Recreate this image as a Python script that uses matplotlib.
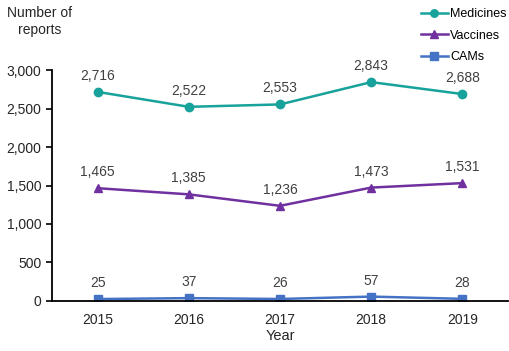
import matplotlib.pyplot as plt

plt.rcParams['font.family'] = ['Liberation Sans', 'DejaVu Sans']

years = ['2015', '2016', '2017', '2018', '2019']
medicines = [2716, 2522, 2553, 2843, 2688]
vaccines = [1465, 1385, 1236, 1473, 1531]
cams = [25, 37, 26, 57, 28]

txt = '#404040'

fig = plt.figure(figsize=(5.1, 3.51), dpi=100)
ax = fig.add_axes([0.102, 0.1425, 0.894, 0.658])

x = range(len(years))
series = [
    ('Medicines', medicines, '#17a29b', 'o'),
    ('Vaccines', vaccines, '#7030a0', '^'),
    ('CAMs', cams, '#4472c4', 's'),
]
for name, vals, col, mk in series:
    ax.plot(x, vals, color=col, marker=mk, markersize=6, linewidth=1.8, label=name)
    for xi, v in zip(x, vals):
        ax.annotate(f'{v:,}', (xi, v), xytext=(0, 11.5), textcoords='offset points',
                    ha='center', va='center', fontsize=10, color=txt)

ax.set_xlim(-0.5, 4.5)
ax.set_ylim(0, 3000)
ax.set_yticks(range(0, 3001, 500))
ax.set_yticklabels([f'{t:,}' for t in range(0, 3001, 500)])
ax.set_xticks(list(x))
ax.set_xticklabels(years)
ax.tick_params(axis='y', length=4, width=1.2, colors='black', labelcolor='#262626', labelsize=10)
ax.tick_params(axis='x', length=0, labelcolor='#262626', labelsize=10, pad=9)
for s in ['top', 'right']:
    ax.spines[s].set_visible(False)
for s in ['left', 'bottom']:
    ax.spines[s].set_linewidth(1.3)
ax.set_xlabel('Year', fontsize=10.5, color='#262626', labelpad=1)

fig.text(0.078, 0.938, 'Number of\nreports', ha='center', va='center', fontsize=10,
         color='#262626', linespacing=1.25)

fig.legend(loc='upper right', bbox_to_anchor=(1.015, 1.008), frameon=False, fontsize=9,
           handlelength=2.2, handletextpad=0.15, labelspacing=0.75, labelcolor='black',
           markerscale=0.9)

fig.savefig('out.png', dpi=100)
